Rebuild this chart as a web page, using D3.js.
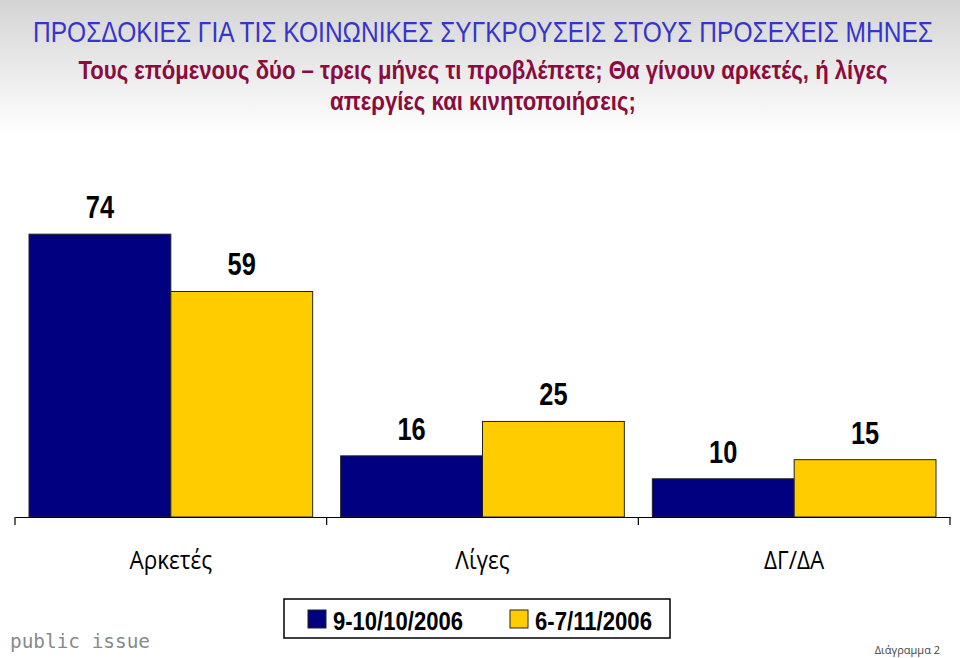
<!DOCTYPE html>
<html><head><meta charset="utf-8">
<script src="https://cdn.jsdelivr.net/npm/d3@7"></script>
<style>
html,body{margin:0;padding:0;background:#fff;}
svg{display:block;}
.nar{font-family:"Liberation Sans",Arial,sans-serif;}
</style></head><body>
<svg id="c" width="960" height="658"></svg>
<script>
const categories = ["Αρκετές", "Λίγες", "ΔΓ/ΔΑ"];
const seriesNames = ["9-10/10/2006", "6-7/11/2006"];
const series1 = [74, 16, 10];
const series2 = [59, 25, 15];
const colors = ["#000080", "#FFCC00"];
const title = "ΠΡΟΣΔΟΚΙΕΣ ΓΙΑ ΤΙΣ ΚΟΙΝΩΝΙΚΕΣ ΣΥΓΚΡΟΥΣΕΙΣ ΣΤΟΥΣ ΠΡΟΣΕΧΕΙΣ ΜΗΝΕΣ";
const subtitle = ["Τους επόμενους δύο – τρεις μήνες τι προβλέπετε; Θα γίνουν αρκετές, ή λίγες", "απεργίες και κινητοποιήσεις;"];

const svg = d3.select("#c");
// horizontal condense around anchor point
function condense(sel, f){
  sel.each(function(){
    const t = d3.select(this);
    const x = +t.attr("x"), y = +t.attr("y");
    t.attr("transform", `translate(${x},${y}) scale(${f},1) translate(${-x},${-y})`);
  });
}
// condense a text so that it spans a given width
function fit(sel, w){
  sel.each(function(){
    const w0 = this.getComputedTextLength();
    d3.select(this).call(condense, w / w0);
  });
}

const defs = svg.append("defs");
const g = defs.append("linearGradient").attr("id","bg").attr("x1",0).attr("y1",0).attr("x2",0).attr("y2",1);
g.append("stop").attr("offset","0%").attr("stop-color","#d4d4d4");
g.append("stop").attr("offset","100%").attr("stop-color","#ffffff");
svg.append("rect").attr("x",0).attr("y",0).attr("width",960).attr("height",135).attr("fill","url(#bg)");

svg.append("text").attr("class","nar").attr("x",483).attr("y",42).attr("text-anchor","middle")
  .attr("font-size",29).attr("fill","#3535cc").text(title).call(fit, 900);
const subW = [810, 306];
subtitle.forEach((s,i)=>{
  svg.append("text").attr("class","nar").attr("x",483).attr("y",79+i*31).attr("text-anchor","middle")
    .attr("font-size",26).attr("font-weight","bold").attr("fill","#8b0c3c").text(s).call(fit, subW[i]);
});

const left = 15, right = 950, base = 517;
const x = d3.scaleBand().domain(categories).range([left, right]).paddingInner(0).paddingOuter(0);
const xs = d3.scaleBand().domain([0,1]).range([14, x.bandwidth()-14]);
const y = d3.scaleLinear().domain([0, 80]).range([base, base - 80*3.822]);

const data = categories.map((c,i)=>({c, v:[series1[i], series2[i]]}));
const grp = svg.append("g").selectAll("g").data(data).join("g").attr("transform", d=>`translate(${x(d.c)},0)`);
grp.selectAll("rect").data(d=>d.v.map((v,k)=>({v,k}))).join("rect")
  .attr("x", d=>xs(d.k)).attr("width", xs.bandwidth())
  .attr("y", d=>y(d.v)).attr("height", d=>base - y(d.v))
  .attr("fill", d=>colors[d.k]).attr("stroke","#222").attr("stroke-width",1);
grp.selectAll("text").data(d=>d.v.map((v,k)=>({v,k}))).join("text").attr("class","nar")
  .attr("x", d=>xs(d.k)+xs.bandwidth()/2).attr("y", d=>y(d.v)-16)
  .attr("text-anchor","middle").attr("font-size",31).attr("font-weight","bold").attr("fill","#000")
  .text(d=>d.v).call(condense, 0.82);

// axis
const ax = svg.append("g").attr("transform",`translate(0,${base})`);
ax.call(d3.axisBottom(x).tickSize(0).tickFormat(""));
ax.select(".domain").attr("stroke","#000").attr("stroke-width",1.2);
const bounds = categories.map(c=>x(c)).concat([right]);
ax.selectAll(".bt").data(bounds).join("line").attr("class","bt")
  .attr("x1",d=>d).attr("x2",d=>d).attr("y1",0).attr("y2",8).attr("stroke","#000").attr("stroke-width",1.2);
svg.append("g").selectAll("text").data(categories).join("text")
  .attr("font-family","'Open Sans',sans-serif")
  .attr("x", d=>x(d)+x.bandwidth()/2).attr("y", 569).attr("text-anchor","middle")
  .attr("font-size",25).attr("fill","#000").text(d=>d).call(condense, 0.9);

// legend
const lg = svg.append("g");
lg.append("rect").attr("x",284).attr("y",599).attr("width",386).attr("height",39)
  .attr("fill","#fff").attr("stroke","#000").attr("stroke-width",1.5);
const lx = [308, 510];
const lw = [130, 117];
seriesNames.forEach((s,i)=>{
  lg.append("rect").attr("x",lx[i]).attr("y",610).attr("width",18).attr("height",18)
    .attr("fill",colors[i]).attr("stroke","#222").attr("stroke-width",1);
  lg.append("text").attr("class","nar").attr("x",lx[i]+25).attr("y",630)
    .attr("font-size",25).attr("font-weight","bold").attr("fill","#000").text(s).call(fit, lw[i]);
});

svg.append("text").attr("x",10).attr("y",648).attr("font-family","DejaVu Sans Mono")
  .attr("font-size",20).attr("fill","#858a90").text("public issue").call(condense, 0.97);
svg.append("text").attr("x",940).attr("y",654).attr("text-anchor","end").attr("font-family","Open Sans")
  .attr("font-size",11).attr("fill","#444").text("Διάγραμμα 2");
</script></body></html>
